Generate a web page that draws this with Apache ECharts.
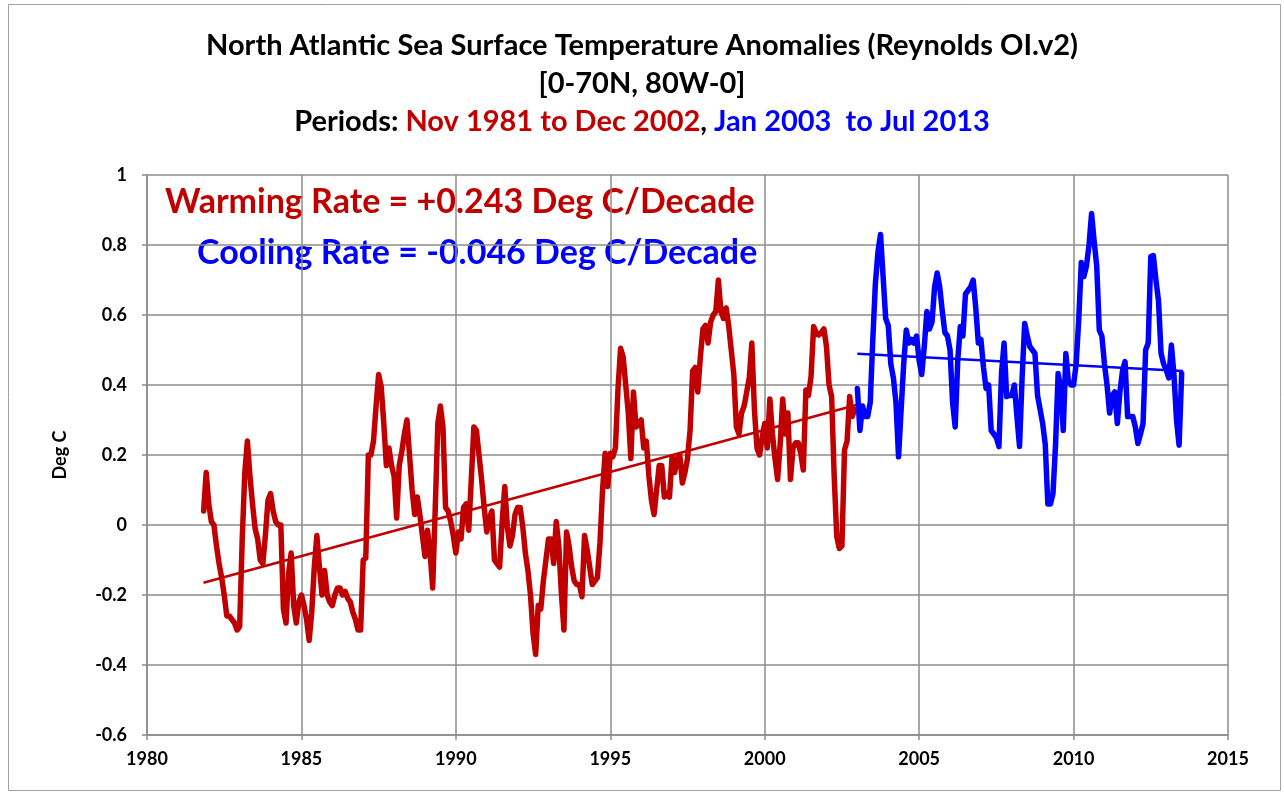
<!DOCTYPE html>
<html>
<head>
<meta charset="utf-8">
<script src="https://cdn.jsdelivr.net/npm/echarts@6/dist/echarts.min.js"></script>
<style>
  html, body { margin: 0; padding: 0; background: #fff; }
  #chart { width: 1284px; height: 794px; }
</style>
</head>
<body>
<div id="chart"></div>
<script>
// monthly anomalies, Deg C
const redStart = [1981, 11]
const redValues = [
  0.04, 0.15,
  0.06, 0.01, 0.0, -0.06, -0.11, -0.15, -0.2, -0.26, -0.26, -0.27, -0.28, -0.30,
  -0.29, -0.04, 0.15, 0.24, 0.14, 0.06, -0.01, -0.04, -0.10, -0.11, -0.03, 0.07,
  0.09, 0.04, 0.01, 0.0, 0.0, -0.24, -0.28, -0.14, -0.08, -0.23, -0.28, -0.22,
  -0.20, -0.23, -0.27, -0.33, -0.25, -0.12, -0.03, -0.12, -0.20, -0.13, -0.20, -0.22,
  -0.23, -0.20, -0.18, -0.18, -0.20, -0.19, -0.21, -0.22, -0.25, -0.27, -0.30, -0.30,
  -0.10, -0.095, 0.20, 0.20, 0.24, 0.34, 0.43, 0.395, 0.29, 0.17, 0.22, 0.17,
  0.14, 0.02, 0.17, 0.21, 0.26, 0.30, 0.20, 0.10, 0.03, 0.08, 0.03, -0.03,
  -0.09, -0.015, -0.08, -0.18, 0.05, 0.29, 0.34, 0.28, 0.05, 0.04, 0.01, -0.03,
  -0.08, -0.02, -0.04, 0.05, 0.06, -0.015, 0.13, 0.28, 0.27, 0.20, 0.13, 0.05,
  -0.02, 0.02, 0.04, -0.10, -0.11, -0.12, 0.01, 0.11, -0.005, -0.06, -0.03, 0.03,
  0.05, 0.05, -0.005, -0.08, -0.13, -0.20, -0.31, -0.37, -0.23, -0.24, -0.16, -0.10,
  -0.04, -0.04, -0.11, 0.01, -0.06, -0.195, -0.30, -0.02, -0.06, -0.12, -0.16, -0.17,
  -0.17, -0.205, -0.03, -0.07, -0.12, -0.17, -0.16, -0.15, -0.05, 0.10, 0.205, 0.11,
  0.205, 0.195, 0.22, 0.39, 0.505, 0.48, 0.40, 0.32, 0.19, 0.38, 0.28, 0.29,
  0.30, 0.22, 0.24, 0.14, 0.07, 0.03, 0.10, 0.17, 0.17, 0.08, 0.09, 0.08,
  0.195, 0.15, 0.19, 0.20, 0.12, 0.15, 0.19, 0.27, 0.44, 0.45, 0.38, 0.48,
  0.56, 0.57, 0.52, 0.58, 0.60, 0.61, 0.70, 0.61, 0.59, 0.62, 0.57, 0.50,
  0.43, 0.28, 0.26, 0.32, 0.34, 0.38, 0.42, 0.52, 0.33, 0.22, 0.20, 0.25,
  0.29, 0.22, 0.36, 0.26, 0.19, 0.13, 0.23, 0.36, 0.26, 0.32, 0.13, 0.22,
  0.235, 0.235, 0.205, 0.157, 0.386, 0.37, 0.424, 0.567, 0.55, 0.543, 0.55, 0.56,
  0.51, 0.40, 0.367, 0.138, -0.033, -0.067, -0.06, 0.214, 0.24, 0.367, 0.31, 0.33
]
const blueStart = [2003, 1]
const blueValues = [
  0.39, 0.27, 0.34, 0.31, 0.31, 0.35, 0.53, 0.69, 0.78, 0.83, 0.71, 0.59,
  0.57, 0.46, 0.42, 0.35, 0.195, 0.33, 0.46, 0.557, 0.52, 0.53, 0.52, 0.54,
  0.47, 0.43, 0.51, 0.61, 0.56, 0.58, 0.68, 0.72, 0.68, 0.61, 0.55, 0.54,
  0.50, 0.35, 0.28, 0.47, 0.567, 0.54, 0.66, 0.67, 0.68, 0.70, 0.62, 0.52,
  0.53, 0.45, 0.39, 0.40, 0.27, 0.26, 0.25, 0.224, 0.433, 0.52, 0.367, 0.37,
  0.37, 0.40, 0.31, 0.224, 0.42, 0.576, 0.54, 0.51, 0.50, 0.49, 0.37, 0.33,
  0.29, 0.23, 0.06, 0.06, 0.09, 0.23, 0.433, 0.39, 0.27, 0.49, 0.41, 0.40,
  0.40, 0.46, 0.586, 0.75, 0.71, 0.74, 0.80, 0.89, 0.81, 0.74, 0.557, 0.54,
  0.46, 0.40, 0.32, 0.37, 0.38, 0.29, 0.38, 0.44, 0.467, 0.31, 0.31, 0.31,
  0.28, 0.233, 0.26, 0.29, 0.50, 0.52, 0.767, 0.77, 0.70, 0.64, 0.49, 0.46,
  0.443, 0.42, 0.514, 0.43, 0.30, 0.228, 0.433
]
// linear trend end points [year, Deg C]
const warmTrend = [[1981.83, -0.165], [2002.96, 0.343]]
const coolTrend = [[2003.0, 0.489], [2013.54, 0.440]]
const yearTicks = [1980, 2015, 5]
const degTicks = [-0.6, 1, 0.2]

function toPoints (start, values) {
  return values.map((v, i) => [start[0] + (start[1] - 1 + i) / 12, v])
}

const FONT = 'Lato'
const RED = '#c00000'
const BLUE = '#0000ff'
const GRID = '#8c8c8c'
const titleFont = { fontFamily: FONT, fontWeight: 'bold', fontSize: 29, color: '#000' }

let myChart = echarts.init(document.getElementById('chart'))
myChart.setOption({
  animation: false,
  backgroundColor: '#fff',
  textStyle: { fontFamily: FONT },
  title: [
    {
      text: 'North Atlantic Sea Surface Temperature Anomalies (Reynolds OI.v2)',
      left: 'center',
      top: 26,
      textStyle: titleFont
    },
    {
      text: '[0-70N, 80W-0]',
      left: 'center',
      top: 64,
      textStyle: titleFont
    },
    {
      text: 'Periods: {r|Nov 1981 to Dec 2002}, {b|Jan 2003  to Jul 2013}',
      left: 'center',
      top: 102,
      textStyle: Object.assign({}, titleFont, {
        rich: {
          r: Object.assign({}, titleFont, { color: RED }),
          b: Object.assign({}, titleFont, { color: BLUE })
        }
      })
    }
  ],
  graphic: [
    {
      type: 'rect',
      shape: { x: 8.5, y: 4.5, width: 1272, height: 786 },
      style: { fill: 'none', stroke: '#a0a0a0', lineWidth: 1 },
      silent: true
    },
    {
      type: 'text',
      left: 165,
      top: 185,
      style: { text: 'Warming Rate = +0.243 Deg C/Decade', fill: RED, font: 'bold 34px Lato' }
    },
    {
      type: 'text',
      left: 197,
      top: 236,
      style: { text: 'Cooling Rate = -0.046 Deg C/Decade', fill: BLUE, font: 'bold 34px Lato' }
    }
  ],
  grid: { left: 147, right: 56, top: 175, bottom: 59 },
  xAxis: {
    type: 'value',
    min: yearTicks[0],
    max: yearTicks[1],
    interval: yearTicks[2],
    axisLine: { show: true, onZero: false, lineStyle: { color: GRID, width: 1.5 } },
    axisTick: { show: true, inside: false, length: 5, lineStyle: { color: GRID, width: 1.5 } },
    splitLine: { show: true, lineStyle: { color: GRID, width: 1.5 } },
    axisLabel: {
      color: '#000',
      fontWeight: 'bold',
      fontSize: 18,
      margin: 15,
      fontFamily: FONT,
      formatter: v => String(v)
    }
  },
  yAxis: {
    type: 'value',
    min: degTicks[0],
    max: degTicks[1],
    interval: degTicks[2],
    name: 'Deg C',
    nameLocation: 'middle',
    nameGap: 78,
    nameTextStyle: { color: '#000', fontWeight: 'bold', fontSize: 18, fontFamily: FONT },
    axisLine: { show: true, lineStyle: { color: GRID, width: 1.5 } },
    axisTick: { show: true, length: 5, lineStyle: { color: GRID, width: 1.5 } },
    splitLine: { show: true, lineStyle: { color: GRID, width: 1.5 } },
    axisLabel: {
      color: '#000',
      fontWeight: 'bold',
      fontSize: 18,
      margin: 20,
      fontFamily: FONT,
      formatter: v => String(Math.round(v * 10) / 10)
    }
  },
  series: [
    {
      name: 'Nov 1981 to Dec 2002',
      type: 'line',
      data: toPoints(redStart, redValues),
      symbol: 'none',
      color: RED,
      lineStyle: { width: 5.5, join: 'round', cap: 'round' }
    },
    {
      name: 'Warming trend',
      type: 'line',
      data: warmTrend,
      symbol: 'none',
      color: RED,
      lineStyle: { width: 2.5 }
    },
    {
      name: 'Jan 2003 to Jul 2013',
      type: 'line',
      data: toPoints(blueStart, blueValues),
      symbol: 'none',
      color: BLUE,
      lineStyle: { width: 5.5, join: 'round', cap: 'round' }
    },
    {
      name: 'Cooling trend',
      type: 'line',
      data: coolTrend,
      symbol: 'none',
      color: BLUE,
      lineStyle: { width: 2.5 }
    }
  ]
})
</script>
</body>
</html>
